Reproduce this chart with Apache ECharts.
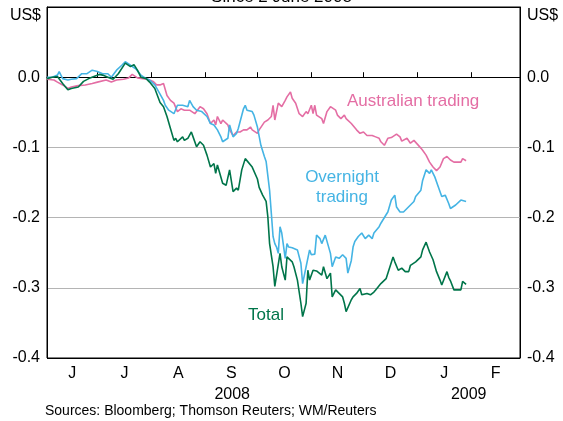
<!DOCTYPE html>
<html>
<head>
<meta charset="utf-8">
<script src="https://cdn.jsdelivr.net/npm/echarts@6/dist/echarts.min.js"></script>
<style>
  html, body { margin: 0; padding: 0; background: #fff; }
  #chart { width: 563px; height: 421px; }
</style>
</head>
<body>
<div id="chart"></div>
<script>
// x = days since 1 June 2008, values in US$
const totalDays = [1, 4, 7, 10, 13, 15, 19, 22, 25, 28, 31, 33, 36, 39, 42, 46, 49, 51, 53, 55, 58, 60, 63, 66, 68, 70, 72, 74, 75, 76, 79, 80, 82, 84, 85, 87, 89, 91, 93, 95, 97, 98, 99, 102, 104, 106, 108, 110, 111, 113, 115, 116, 119, 122, 123, 125, 127, 128, 129, 131, 132, 133, 135, 136, 138, 139, 142, 143, 145, 147, 148, 150, 151, 152, 154, 156, 159, 160, 162, 164, 165, 167, 169, 171, 172, 173, 176, 177, 179, 181, 182, 185, 187, 189, 190, 193, 196, 197, 200, 201, 203, 205, 207, 209, 210, 213, 216, 217, 219, 221, 223, 225, 227, 228, 231, 232, 233, 235, 236, 239, 240, 242];
const totalValues = [-0.002, 0.0, 0.001, -0.009, -0.018, -0.016, -0.014, -0.006, -0.002, 0.001, 0.004, 0.003, 0.0, -0.003, 0.005, 0.02, 0.015, 0.018, 0.01, 0.0, -0.002, -0.007, -0.016, -0.036, -0.042, -0.056, -0.073, -0.09, -0.087, -0.092, -0.085, -0.09, -0.087, -0.078, -0.085, -0.099, -0.092, -0.097, -0.111, -0.128, -0.123, -0.137, -0.125, -0.151, -0.154, -0.132, -0.163, -0.158, -0.161, -0.132, -0.116, -0.118, -0.128, -0.145, -0.157, -0.168, -0.177, -0.199, -0.237, -0.27, -0.298, -0.296, -0.251, -0.27, -0.289, -0.256, -0.263, -0.27, -0.289, -0.322, -0.341, -0.322, -0.275, -0.289, -0.275, -0.276, -0.282, -0.27, -0.287, -0.279, -0.313, -0.303, -0.308, -0.313, -0.322, -0.334, -0.317, -0.313, -0.308, -0.301, -0.31, -0.308, -0.31, -0.306, -0.303, -0.294, -0.287, -0.287, -0.256, -0.263, -0.275, -0.272, -0.277, -0.277, -0.268, -0.263, -0.256, -0.246, -0.235, -0.249, -0.26, -0.277, -0.289, -0.296, -0.277, -0.285, -0.29, -0.303, -0.303, -0.303, -0.291, -0.295];

const overnightDays = [1, 4, 7, 8, 10, 13, 15, 18, 21, 24, 27, 30, 33, 36, 38, 41, 44, 46, 49, 52, 55, 58, 60, 63, 66, 68, 69, 71, 74, 76, 79, 82, 83, 85, 87, 90, 93, 95, 97, 99, 101, 102, 105, 106, 108, 110, 111, 114, 115, 116, 119, 120, 122, 124, 126, 127, 129, 130, 131, 132, 133, 134, 135, 136, 138, 139, 140, 142, 143, 145, 147, 148, 150, 152, 153, 155, 156, 158, 159, 161, 162, 164, 165, 167, 169, 171, 173, 174, 176, 177, 178, 180, 182, 184, 186, 188, 189, 192, 193, 196, 197, 199, 201, 202, 204, 206, 208, 210, 212, 213, 216, 217, 219, 221, 222, 224, 226, 228, 230, 232, 233, 236, 237, 239, 242];
const overnightValues = [0.0, 0.0, 0.003, 0.008, -0.002, -0.004, -0.003, -0.002, 0.005, 0.005, 0.01, 0.008, 0.005, 0.005, 0.0, 0.01, 0.017, 0.022, 0.017, 0.012, 0.003, -0.002, -0.004, -0.011, -0.024, -0.033, -0.04, -0.047, -0.052, -0.04, -0.04, -0.042, -0.033, -0.042, -0.047, -0.049, -0.056, -0.066, -0.068, -0.075, -0.085, -0.092, -0.087, -0.068, -0.085, -0.08, -0.073, -0.045, -0.04, -0.047, -0.049, -0.054, -0.071, -0.097, -0.113, -0.12, -0.161, -0.194, -0.227, -0.237, -0.242, -0.251, -0.213, -0.222, -0.258, -0.237, -0.242, -0.243, -0.244, -0.246, -0.265, -0.294, -0.27, -0.246, -0.253, -0.252, -0.225, -0.23, -0.237, -0.225, -0.227, -0.251, -0.27, -0.256, -0.258, -0.253, -0.258, -0.279, -0.261, -0.242, -0.234, -0.227, -0.222, -0.23, -0.225, -0.23, -0.222, -0.213, -0.208, -0.196, -0.192, -0.175, -0.168, -0.185, -0.192, -0.192, -0.187, -0.182, -0.177, -0.17, -0.161, -0.147, -0.132, -0.137, -0.132, -0.142, -0.156, -0.17, -0.168, -0.18, -0.187, -0.182, -0.184, -0.175, -0.177];

const australianDays = [1, 5, 7, 10, 13, 15, 19, 23, 27, 30, 35, 38, 41, 45, 48, 50, 53, 56, 59, 62, 64, 66, 68, 70, 72, 74, 76, 78, 80, 83, 86, 89, 91, 93, 95, 97, 98, 99, 101, 102, 105, 106, 108, 110, 112, 114, 116, 118, 119, 122, 123, 124, 126, 128, 130, 131, 132, 134, 136, 138, 139, 141, 142, 144, 146, 148, 150, 151, 153, 154, 155, 156, 159, 160, 162, 164, 167, 168, 170, 172, 173, 176, 177, 179, 181, 183, 185, 188, 190, 192, 193, 195, 197, 199, 202, 204, 205, 208, 210, 212, 213, 216, 217, 219, 221, 223, 225, 227, 229, 231, 233, 235, 236, 239, 240, 242];
const australianValues = [-0.003, -0.004, -0.007, -0.011, -0.016, -0.014, -0.012, -0.011, -0.009, -0.007, -0.004, -0.007, -0.004, -0.003, -0.001, 0.004, -0.001, -0.002, -0.003, -0.006, -0.011, -0.011, -0.009, -0.026, -0.033, -0.037, -0.049, -0.045, -0.047, -0.047, -0.052, -0.042, -0.045, -0.052, -0.066, -0.061, -0.068, -0.056, -0.066, -0.061, -0.068, -0.075, -0.083, -0.078, -0.078, -0.075, -0.075, -0.071, -0.075, -0.08, -0.075, -0.073, -0.064, -0.061, -0.056, -0.04, -0.061, -0.037, -0.042, -0.033, -0.028, -0.021, -0.03, -0.037, -0.052, -0.056, -0.049, -0.052, -0.04, -0.052, -0.04, -0.054, -0.059, -0.066, -0.049, -0.042, -0.047, -0.054, -0.059, -0.054, -0.059, -0.066, -0.068, -0.075, -0.08, -0.078, -0.083, -0.083, -0.085, -0.087, -0.092, -0.097, -0.087, -0.086, -0.081, -0.085, -0.091, -0.087, -0.094, -0.09, -0.092, -0.101, -0.104, -0.111, -0.121, -0.128, -0.133, -0.128, -0.116, -0.113, -0.118, -0.121, -0.123, -0.121, -0.116, -0.119];

const monthLetters = ["J", "J", "A", "S", "O", "N", "D", "J", "F"];
// first day of each month Jul 2008 .. Mar 2009, in days since 1 June 2008
const monthStarts = [30, 61, 92, 122, 153, 183, 214, 245, 273];
const yearLabels = ["2008", "2009"];

const FONT = "Liberation Sans, Arial, sans-serif";
const GREEN = "#00754a", BLUE = "#45b4e4", PINK = "#e46ea4";

const axisMin = 1;   // 2 June 2008
const axisMax = 273; // 1 March 2009
const monthMids = monthLetters.map((_, i) => ((i === 0 ? axisMin : monthStarts[i - 1]) + monthStarts[i]) / 2);
const yearMids = [(axisMin + monthStarts[6]) / 2, (monthStarts[6] + axisMax) / 2];

function pairs(days, vals) { return days.map((d, i) => [d, vals[i]]); }
function pick(list, labels, v) {
  const i = list.findIndex(m => Math.abs(m - v) < 0.01);
  return i < 0 ? "" : labels[i];
}

const chart = echarts.init(document.getElementById("chart"));

const yAxisBase = {
  type: "value",
  min: -0.4, max: 0.1, interval: 0.1,
  axisLine: { show: true, lineStyle: { color: "#000", width: 1 } },
  axisTick: { show: false },
  splitLine: { show: true, lineStyle: { color: ["#000", "#b4b4b4", "#b4b4b4", "#b4b4b4", "#000", "#000"], width: 1 } },
  axisLabel: {
    color: "#000", fontSize: 16, fontFamily: FONT, margin: 7,
    formatter: v => (v > 0.05 ? "" : (Math.abs(v) < 1e-9 ? "0.0" : v.toFixed(1))),
  },
};

chart.setOption({
  animation: false,
  grid: { left: 47, right: 43, top: 7, bottom: 63, show: true, borderColor: "#000", borderWidth: 1 },
  xAxis: [
    {
      type: "value", min: axisMin, max: axisMax,
      axisLine: { show: true, lineStyle: { color: "#000" } },
      axisTick: { show: true, inside: true, length: 5, customValues: monthStarts, lineStyle: { color: "#000" } },
      splitLine: { show: false },
      axisLabel: {
        customValues: monthMids, color: "#000", fontSize: 16, fontFamily: FONT, margin: 8,
        formatter: v => pick(monthMids, monthLetters, v),
      },
    },
    {
      type: "value", min: axisMin, max: axisMax, position: "bottom", offset: 21,
      axisLine: { show: false }, axisTick: { show: false }, splitLine: { show: false },
      axisLabel: {
        customValues: yearMids, color: "#000", fontSize: 16, fontFamily: FONT, margin: 8,
        formatter: v => pick(yearMids, yearLabels, v),
      },
    },
  ],
  yAxis: [
    Object.assign({}, yAxisBase, { position: "left" }),
    Object.assign({}, yAxisBase, { position: "right", splitLine: { show: false } }),
  ],
  series: [
    { name: "Australian trading", type: "line", data: pairs(australianDays, australianValues), showSymbol: false, lineStyle: { color: PINK, width: 1.6 }, itemStyle: { color: PINK } },
    { name: "Overnight trading", type: "line", data: pairs(overnightDays, overnightValues), showSymbol: false, lineStyle: { color: BLUE, width: 1.6 }, itemStyle: { color: BLUE } },
    { name: "Total", type: "line", data: pairs(totalDays, totalValues), showSymbol: false, lineStyle: { color: GREEN, width: 1.6 }, itemStyle: { color: GREEN } },
  ],
  graphic: [
    { type: "text", left: "center", top: -11, style: { text: "Since 2 June 2008", fontSize: 17, fontFamily: FONT, fill: "#000" } },
    { type: "text", right: 522, top: 8, style: { text: "US$", fontSize: 16, fontFamily: FONT, fill: "#000" } },
    { type: "text", left: 527, top: 8, style: { text: "US$", fontSize: 16, fontFamily: FONT, fill: "#000" } },
    { type: "text", left: 347, top: 93, style: { text: "Australian trading", fontSize: 17, fontFamily: FONT, fill: PINK } },
    { type: "text", x: 342, y: 167, style: { text: "Overnight\ntrading", fontSize: 17, lineHeight: 20, align: "center", fontFamily: FONT, fill: BLUE } },
    { type: "text", left: 248, top: 307, style: { text: "Total", fontSize: 17, fontFamily: FONT, fill: GREEN } },
    { type: "text", left: 45, top: 404, style: { text: "Sources: Bloomberg; Thomson Reuters; WM/Reuters", fontSize: 14, fontFamily: FONT, fill: "#000" } },
  ],
});
</script>
</body>
</html>
